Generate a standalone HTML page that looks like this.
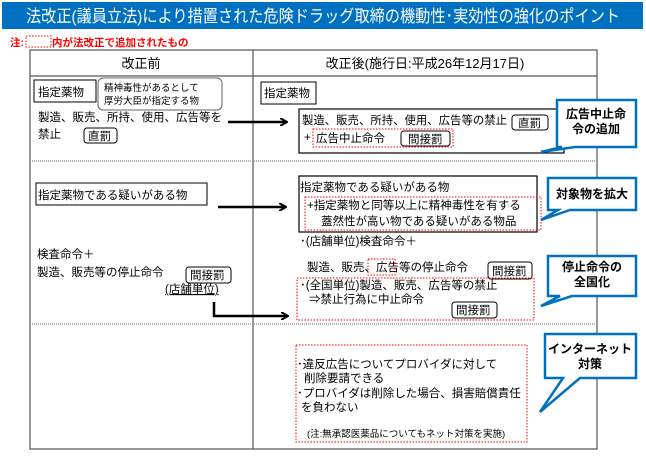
<!DOCTYPE html>
<html><head><meta charset="utf-8"><style>
body{margin:0;background:#fff;width:646px;height:462px;overflow:hidden}
svg{display:block}
text{font-family:"Liberation Sans","Noto Sans CJK JP",sans-serif;font-size:11.5px;fill:#000}
.b{font-weight:bold;font-size:12px}
</style></head><body>
<svg width="646" height="462" viewBox="0 0 646 462">
<defs><marker id="ah" markerWidth="8" markerHeight="8" refX="7" refY="4" orient="auto" markerUnits="userSpaceOnUse"><path d="M0,0 L7,4 L0,8" fill="none" stroke="#000" stroke-width="2"/></marker></defs>
<rect x="2" y="2" width="641" height="27" fill="#0070c0"/>
<text x="26" y="22" textLength="594" lengthAdjust="spacingAndGlyphs" style="font-size:17px;fill:#fff">法改正(議員立法)により措置された危険ドラッグ取締の機動性･実効性の強化のポイント</text>
<text x="10" y="46" style="fill:#f00;font-weight:bold;font-size:10.5px">注:</text>
<rect x="26" y="36" width="25" height="11" fill="none" stroke="#f00" stroke-dasharray="1.5,1.5"/>
<text x="52" y="46" style="fill:#f00;font-weight:bold;font-size:10.5px">内が法改正で追加されたもの</text>
<rect x="30" y="50" width="567" height="399" fill="none" stroke="#555" stroke-width="1.2"/>
<line x1="253" y1="50" x2="253" y2="449" stroke="#555" stroke-width="1.2"/>
<line x1="30" y1="76" x2="597" y2="76" stroke="#555" stroke-width="1.2"/>
<line x1="30" y1="161" x2="597" y2="161" stroke="#999" stroke-width="1.5" stroke-dasharray="1,1"/>
<line x1="30" y1="324" x2="597" y2="324" stroke="#999" stroke-width="1.5" stroke-dasharray="1,1"/>
<text x="141" y="68" text-anchor="middle" style="font-size:13px">改正前</text>
<text x="425" y="68" text-anchor="middle" style="font-size:13px">改正後(施行日:平成26年12月17日)</text>
<rect x="34" y="80" width="62" height="22" fill="none" stroke="#000"/>
<text x="38" y="96">指定薬物</text>
<rect x="98" y="78" width="124" height="32" rx="5" fill="none" stroke="#666"/>
<text x="104" y="91" style="font-size:9.5px">精神毒性があるとして</text>
<text x="104" y="104" style="font-size:9.5px">厚労大臣が指定する物</text>
<text x="38" y="121">製造、販売、所持、使用、広告等を</text>
<text x="38" y="138">禁止</text>
<rect x="84" y="128" width="33" height="15" rx="3" fill="none" stroke="#000"/>
<text x="88" y="140">直罰</text>
<line x1="228" y1="122" x2="287" y2="122" stroke="#000" stroke-width="2.5" marker-end="url(#ah)"/>
<rect x="261" y="82" width="55" height="22" fill="none" stroke="#000"/>
<text x="264" y="97">指定薬物</text>
<rect x="299" y="109" width="265" height="44" fill="none" stroke="#000" stroke-width="1.2"/>
<text x="302" y="124" textLength="205" lengthAdjust="spacingAndGlyphs">製造、販売、所持、使用、広告等の禁止</text>
<rect x="512" y="115" width="36" height="15" rx="3" fill="none" stroke="#000"/>
<text x="518" y="127">直罰</text>
<text x="304" y="141">+</text>
<rect x="313" y="129" width="140" height="18" fill="none" stroke="#f00" stroke-dasharray="1.5,1.5"/>
<text x="316" y="142">広告中止命令</text>
<rect x="401" y="131" width="49" height="15" rx="3" fill="none" stroke="#000"/>
<text x="408" y="143">間接罰</text>
<rect x="36" y="183" width="171" height="22" fill="none" stroke="#000"/>
<text x="38" y="199">指定薬物である疑いがある物</text>
<line x1="218" y1="207" x2="286" y2="207" stroke="#000" stroke-width="2.5" marker-end="url(#ah)"/>
<rect x="299" y="176" width="238" height="56" fill="none" stroke="#000" stroke-width="1.2"/>
<text x="300" y="191">指定薬物である疑いがある物</text>
<rect x="305" y="197" width="236" height="33" fill="none" stroke="#f00" stroke-dasharray="1.5,1.5"/>
<text x="307" y="209">+指定薬物と同等以上に精神毒性を有する</text>
<text x="321" y="225">蓋然性が高い物である疑いがある物品</text>
<text x="37" y="258">検査命令＋</text>
<text x="37" y="276">製造、販売等の停止命令</text>
<rect x="186" y="267" width="45" height="16" rx="3" fill="none" stroke="#000"/>
<text x="190" y="279">間接罰</text>
<text x="165" y="293" style="text-decoration:underline">(店舗単位)</text>
<path d="M214,302 V316 H288" fill="none" stroke="#000" stroke-width="2.5" marker-end="url(#ah)"/>
<text x="300" y="245">･(店舗単位)検査命令＋</text>
<text x="307" y="271">製造、販売、広告等の停止命令</text>
<rect x="368" y="259" width="27" height="16" fill="none" stroke="#f00" stroke-dasharray="1.5,1.5"/>
<rect x="488" y="262" width="44" height="17" rx="3" fill="none" stroke="#000"/>
<text x="492" y="275">間接罰</text>
<rect x="297" y="278" width="237" height="42" fill="none" stroke="#f00" stroke-dasharray="1.5,1.5"/>
<text x="300" y="289">･(全国単位)製造、販売、広告等の禁止</text>
<text x="309" y="303">⇒禁止行為に中止命令</text>
<rect x="452" y="302" width="45" height="16" rx="3" fill="none" stroke="#000"/>
<text x="456" y="314">間接罰</text>
<rect x="296" y="345" width="231" height="97" fill="none" stroke="#f00" stroke-dasharray="1.5,1.5"/>
<text x="297" y="368">･違反広告についてプロバイダに対して</text>
<text x="304" y="382">削除要請できる</text>
<text x="297" y="397">･プロバイダは削除した場合、損害賠償責任</text>
<text x="301" y="411">を負わない</text>
<text x="307" y="437" style="font-size:9.5px">(注:無承認医薬品についてもネット対策を実施)</text>
<g fill="#fff" stroke="#0070c0" stroke-width="2.5" stroke-linejoin="miter">
<path d="M557,100 H636 V147 H575 L541,152 L562,147 H557 Z"/>
<path d="M548,178 H636 V210 H570 L541,220 L558,210 H548 Z"/>
<path d="M548,256 H636 V296 H572 L541,306 L560,296 H548 Z"/>
<path d="M545,334 H636 V378 H580 L540,412 L563,378 H545 Z"/>
</g>
<text x="596" y="118" text-anchor="middle" class="b">広告中止命</text>
<text x="596" y="133" text-anchor="middle" class="b">令の追加</text>
<text x="592" y="198" text-anchor="middle" class="b">対象物を拡大</text>
<text x="592" y="271" text-anchor="middle" class="b">停止命令の</text>
<text x="592" y="286" text-anchor="middle" class="b">全国化</text>
<text x="590" y="353" text-anchor="middle" class="b">インターネット</text>
<text x="590" y="368" text-anchor="middle" class="b">対策</text>
</svg>
</body></html>
